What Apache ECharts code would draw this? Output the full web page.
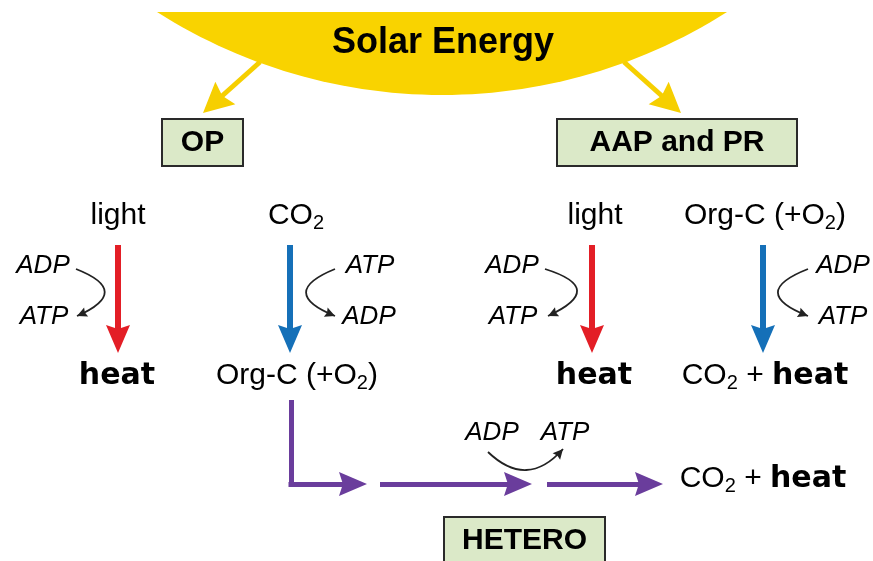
<!DOCTYPE html>
<html>
<head>
<meta charset="utf-8">
<style>html,body{margin:0;padding:0;background:#fff}#main{width:873px;height:561px}</style>
<script src="https://cdn.jsdelivr.net/npm/echarts@6.0.0/dist/echarts.min.js"></script>
</head>
<body>
<div id="main"></div>
<script>
"use strict";
// diagram space: x 0..873, y 0..561 (y grows downward)
var sunEdge = [[157, 12], [442, 95], [727, 12]]; // top-left, lowest point, top-right
var sunTitle = ['Solar Energy'];
var sunTitlePos = [[443, 43]];

var boxNames = ['OP', 'AAP and PR', 'HETERO'];
var boxPos = [[202.5, 142], [677, 142], [524.5, 540]];

var termNames = ['light', 'CO{s|2}', 'light', 'Org-C (+O{s|2})',
    '{b|heat}', 'Org-C (+O{s|2})', '{b|heat}', 'CO{s|2} + {b|heat}',
    'CO{s|2} + {b|heat}'];
var termPos = [[118, 216], [296, 216], [595, 216], [765, 216],
    [117, 376], [297, 376], [594, 376], [765, 376],
    [763, 479]];

var cofactorNames = ['ADP', 'ATP', 'ATP', 'ADP', 'ADP', 'ATP', 'ADP', 'ATP', 'ADP', 'ATP'];
var cofactorPos = [[43, 266], [44, 317], [370, 266], [369, 317], [512, 266], [513, 317],
    [843, 266], [843, 317], [492, 433], [565, 433]];

var sunArrows = [[[260, 62], [203, 113]], [[624, 62], [681, 113]]];
var lightArrows = [[[118, 245], [118, 353]], [[592, 245], [592, 353]]];
var carbonArrows = [[[290, 245], [290, 353]], [[763, 245], [763, 353]]];
var heteroStem = [[[291, 400], [291, 486.5]]];
var heteroArrows = [[[288.5, 484], [367, 484]], [[380, 484], [532, 484]], [[547, 484], [663, 484]]];
var cofactorCurves = [[[76, 269], [77, 316]], [[335, 269], [335, 316]], [[545, 269], [548, 316]],
    [[808, 269], [808, 316]], [[488, 452], [563, 449]]];
var cofactorBend = [1.2, -1.23, 1.3, -1.28, -0.52];

var boxSizes = [[81, 47], [240, 47], [161, 47]];
var font = 'Liberation Sans, Arial, sans-serif';

var chartDom = document.getElementById('main');
var myChart = echarts.init(chartDom);

// triangular head; the symbol box is centred on the shaft end, the tip sits `ahead` px further on
function head(len, wid, ahead) {
    var e = len;
    return 'path://M0,' + (-ahead) + ' L' + (wid / 2) + ',' + (len - ahead) + ' L0,' + (len * 0.86 - ahead) +
        ' L' + (-wid / 2) + ',' + (len - ahead) + ' Z' +
        ' M' + (-e) + ',' + (-e) + ' L' + (-e + 0.01) + ',' + (-e) + ' Z' +
        ' M' + e + ',' + e + ' L' + (e - 0.01) + ',' + e + ' Z';
}

// pull the last point back so the shaft stops inside the head
function shorten(coords, d) {
    var n = coords.length, p = coords[n - 2], q = coords[n - 1];
    var dx = q[0] - p[0], dy = q[1] - p[1], l = Math.sqrt(dx * dx + dy * dy);
    var out = coords.slice(0, n - 1);
    out.push([q[0] - dx / l * d, q[1] - dy / l * d]);
    return out;
}

function arrowLines(list, color, width, len, wid) {
    var ahead = len * 0.35;
    return {
        type: 'lines',
        coordinateSystem: 'cartesian2d',
        symbol: len ? ['none', head(len, wid, ahead)] : 'none',
        symbolSize: 2 * len,
        lineStyle: { color: color, width: width, opacity: 1 },
        silent: true,
        data: list.map(function (c) { return { coords: len ? shorten(c, ahead) : c }; })
    };
}

function textSeries(names, pos, label) {
    return {
        type: 'scatter',
        symbolSize: 1,
        itemStyle: { color: 'rgba(0,0,0,0)', opacity: 1 },
        silent: true,
        label: Object.assign({ show: true, position: 'inside', opacity: 1 }, label),
        data: names.map(function (n, i) { return { value: pos[i], name: n }; })
    };
}

var rich = {
    s: { fontFamily: font, fontSize: 20, lineHeight: 14, verticalAlign: 'bottom', color: '#000' },
    b: { fontFamily: 'DejaVu Sans', fontWeight: 'bold', fontSize: 30, lineHeight: 34, color: '#000' }
};

var option = {
    backgroundColor: '#fff',
    animation: false,
    grid: { left: 0, right: 0, top: 0, bottom: 0 },
    xAxis: { type: 'value', min: 0, max: 873, show: false },
    yAxis: { type: 'value', min: 0, max: 561, inverse: true, show: false },
    series: [
        {
            type: 'custom',
            silent: true,
            data: [0],
            renderItem: function (params, api) {
                var a = api.coord(sunEdge[0]), m = api.coord(sunEdge[1]), b = api.coord(sunEdge[2]);
                var w = (b[0] - a[0]) / 2, s = m[1] - a[1];
                var r = (w * w + s * s) / (2 * s);
                var cx = m[0], cy = m[1] - r;
                var t = Math.asin(w / r);
                var pts = [];
                for (var i = 0; i <= 60; i++) {
                    var ang = t - 2 * t * i / 60;
                    pts.push([cx + r * Math.sin(ang), cy + r * Math.cos(ang)]);
                }
                return { type: 'polygon', shape: { points: pts }, style: { fill: '#f9d300' } };
            }
        },
        arrowLines(sunArrows, '#f6cf00', 5, 30, 30),
        arrowLines(lightArrows, '#e31e26', 6, 28, 24),
        arrowLines(carbonArrows, '#1570b8', 6, 28, 24),
        arrowLines(heteroStem, '#6a3d9c', 5, 0, 0),
        arrowLines(heteroArrows, '#6a3d9c', 5, 28, 24),
        {
            type: 'lines',
            coordinateSystem: 'cartesian2d',
            symbol: ['none', head(10, 10, 0)],
            symbolSize: 20,
            silent: true,
            lineStyle: { color: '#222', width: 1.8, opacity: 1 },
            data: cofactorCurves.map(function (c, i) {
                return { coords: c, lineStyle: { curveness: cofactorBend[i] } };
            })
        },
        {
            type: 'custom',
            silent: true,
            data: boxNames.map(function (n, i) { return [boxPos[i][0], boxPos[i][1], i]; }),
            renderItem: function (params, api) {
                var i = api.value(2);
                var c = api.coord([api.value(0), api.value(1)]);
                var sz = boxSizes[i];
                return {
                    type: 'group',
                    children: [{
                        type: 'rect',
                        shape: { x: Math.round(c[0] - sz[0] / 2), y: Math.round(c[1] - sz[1] / 2), width: sz[0], height: sz[1] },
                        style: { fill: '#dbe9c8', stroke: '#2a2a2a', lineWidth: 2 }
                    }, {
                        type: 'text',
                        x: c[0], y: c[1] + 1,
                        style: {
                            text: boxNames[i], fill: '#000', font: 'bold 30px ' + font,
                            align: 'center', verticalAlign: 'middle'
                        }
                    }]
                };
            }
        },
        textSeries(termNames, termPos, {
            color: '#000', fontFamily: font, fontSize: 30, lineHeight: 34,
            formatter: '{b}', rich: rich
        }),
        textSeries(cofactorNames, cofactorPos, {
            color: '#000', fontFamily: font, fontStyle: 'italic', fontSize: 26,
            formatter: '{b}'
        }),
        textSeries(sunTitle, sunTitlePos, {
            color: '#000', fontFamily: font, fontWeight: 'bold', fontSize: 36,
            formatter: '{b}'
        })
    ]
};
myChart.setOption(option);
</script>
</body>
</html>
